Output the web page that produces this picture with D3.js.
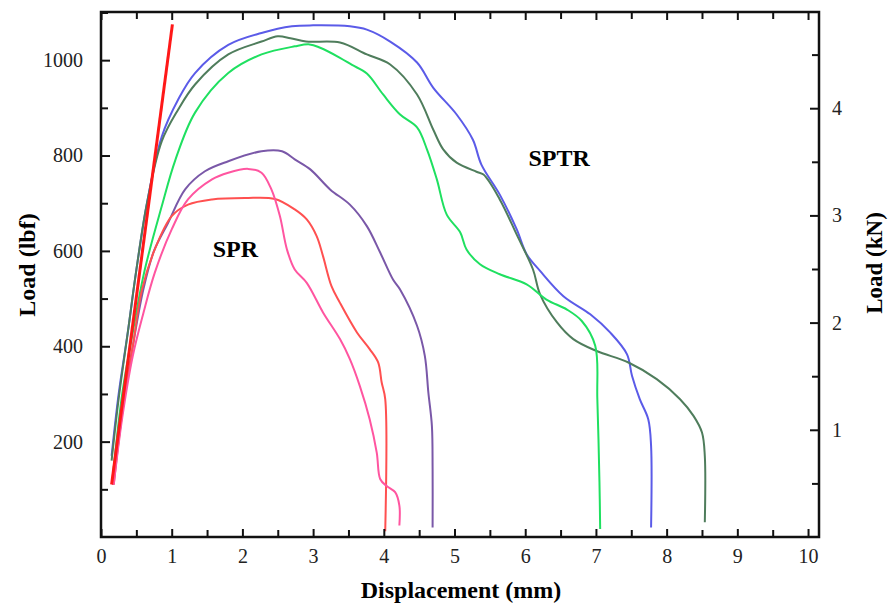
<!DOCTYPE html>
<html>
<head>
<meta charset="utf-8">
<script src="https://cdn.jsdelivr.net/npm/d3@7"></script>
<style>
  body { margin: 0; background: #fff; }
  text { font-family: "Liberation Serif", "Times New Roman", serif; }
</style>
</head>
<body>
<svg width="888" height="605"></svg>
<script>
// displacement (mm), load (lbf)
const stiffnessLine = [[0.15, 110], [1.01, 1075]];

const sptrBlue = [[0.15,170],[0.25,300],[0.38,430],[0.5,560],[0.65,700],[0.86,840],[1.09,917],[1.33,973],[1.8,1032],[2.27,1057],[2.7,1071],[3.0,1073],[3.52,1071],[3.76,1064],[4.09,1039],[4.47,995],[4.7,942],[5.03,886],[5.26,833],[5.38,781],[5.64,718],[5.88,645],[6.02,593],[6.21,558],[6.54,505],[6.92,467],[7.2,429],[7.44,383],[7.51,338],[7.62,289],[7.74,247],[7.78,191],[7.78,20]];

const sptrDark = [[0.15,160],[0.25,290],[0.38,430],[0.5,560],[0.65,700],[0.86,830],[1.09,896],[1.33,949],[1.8,1012],[2.27,1039],[2.5,1050],[2.68,1046],[2.9,1039],[3.38,1037],[3.76,1012],[4.09,991],[4.47,928],[4.7,854],[4.84,813],[5.03,785],[5.31,766],[5.41,760],[5.64,708],[5.88,634],[6.11,561],[6.21,509],[6.45,450],[6.68,415],[7.01,390],[7.46,366],[7.86,331],[8.19,289],[8.38,254],[8.5,219],[8.54,170],[8.54,31]];

const sptrGreen = [[0.17,130],[0.3,300],[0.45,430],[0.62,561],[0.86,694],[1.05,790],[1.33,890],[1.8,973],[2.27,1012],[2.74,1029],[2.95,1033],[3.1,1026],[3.38,1005],[3.55,990],[3.76,972],[3.99,928],[4.23,886],[4.47,859],[4.61,813],[4.75,750],[4.89,676],[5.08,639],[5.17,603],[5.36,572],[5.64,551],[6.02,530],[6.3,498],[6.59,477],[6.8,453],[6.99,401],[7.02,289],[7.05,115],[7.06,17]];

const sprPurple = [[0.17,110],[0.3,260],[0.45,400],[0.6,520],[0.75,600],[0.95,659],[1.19,729],[1.47,767],[1.8,788],[2.27,809],[2.56,809],[2.74,792],[2.96,771],[3.24,729],[3.52,697],[3.76,652],[3.95,596],[4.13,540],[4.23,519],[4.47,443],[4.58,380],[4.63,303],[4.68,233],[4.69,142],[4.69,20]];

const sprPink = [[0.18,110],[0.3,250],[0.45,380],[0.6,470],[0.76,554],[1.0,645],[1.23,708],[1.57,750],[1.8,764],[2.08,772],[2.27,764],[2.41,729],[2.53,673],[2.63,603],[2.74,561],[2.91,533],[3.14,471],[3.38,415],[3.52,373],[3.66,317],[3.8,247],[3.9,177],[3.95,121],[4.04,107],[4.16,94],[4.22,66],[4.22,24]];

const sprRed = [[0.18,110],[0.3,260],[0.45,400],[0.58,519],[0.76,603],[1.0,673],[1.23,697],[1.57,708],[2.04,711],[2.46,709],[2.74,687],[2.91,666],[3.05,631],[3.14,589],[3.26,526],[3.38,491],[3.62,429],[3.8,394],[3.92,366],[3.97,324],[4.02,289],[4.02,12]];

const xTicks = [0,1,2,3,4,5,6,7,8,9,10];
const xMinor = d3.range(0.5, 10.1, 1);
const lbfTicks = [200, 400, 600, 800, 1000];
const lbfMinor = [100, 300, 500, 700, 900, 1100];
const kNTicks = [1, 2, 3, 4];
const kNMinor = [0.5, 1.5, 2.5, 3.5, 4.5];

const series = [
  { data: sptrBlue,  color: "#5b5be8", w: 2 },
  { data: sptrDark,  color: "#4f7d5c", w: 2 },
  { data: sptrGreen, color: "#1fe060", w: 2 },
  { data: sprPurple, color: "#7a58a8", w: 2 },
  { data: sprRed,    color: "#ff5050", w: 2 },
  { data: sprPink,   color: "#ff55a0", w: 2 },
  { data: stiffnessLine, color: "#ff1818", w: 3 }
];

const margin = { top: 12, right: 69, bottom: 68, left: 101 };
const width = 888 - margin.left - margin.right;
const height = 605 - margin.top - margin.bottom;
const LBF_TO_KN = 0.0044482;

const x = d3.scaleLinear().domain([0, 10.155]).range([0, width]);
const y = d3.scaleLinear().domain([0, 1101]).range([height, 0]);
const yKN = d3.scaleLinear().domain([0, 1101 * LBF_TO_KN]).range([height, 0]);

const svg = d3.select("svg")
  .append("g")
  .attr("transform", "translate(" + margin.left + "," + margin.top + ")");

const line = d3.line()
  .curve(d3.curveCatmullRom.alpha(0.5))
  .x(d => x(d[0])).y(d => y(d[1]));

svg.selectAll(".curve")
  .data(series)
  .enter()
  .append("path")
  .attr("class", "curve")
  .attr("fill", "none")
  .attr("stroke", d => d.color)
  .attr("stroke-width", d => d.w)
  .attr("stroke-linejoin", "round")
  .attr("d", d => line(d.data));

function styleAxis(g) {
  g.select(".domain").remove();
  g.selectAll("line").attr("stroke", "#111").attr("stroke-width", 2);
  g.selectAll("text").attr("font-size", 20).attr("fill", "#222")
    .attr("font-family", "Liberation Serif, serif");
}

// bottom
svg.append("g").attr("transform", "translate(0," + height + ")")
  .call(d3.axisBottom(x).tickValues(xTicks).tickSize(-8).tickPadding(12).tickFormat(d3.format("d")))
  .call(styleAxis);
svg.append("g").attr("transform", "translate(0," + height + ")")
  .call(d3.axisBottom(x).tickValues(xMinor).tickSize(-7).tickFormat(""))
  .call(styleAxis);
// top
svg.append("g")
  .call(d3.axisTop(x).tickValues(xTicks).tickSize(-8).tickFormat(""))
  .call(styleAxis);
svg.append("g")
  .call(d3.axisTop(x).tickValues(xMinor).tickSize(-7).tickFormat(""))
  .call(styleAxis);
// left
svg.append("g")
  .call(d3.axisLeft(y).tickValues(lbfTicks).tickSize(-9).tickPadding(18).tickFormat(d3.format("d")))
  .call(styleAxis);
svg.append("g")
  .call(d3.axisLeft(y).tickValues(lbfMinor).tickSize(-7).tickFormat(""))
  .call(styleAxis);
// right
svg.append("g").attr("transform", "translate(" + width + ",0)")
  .call(d3.axisRight(yKN).tickValues(kNTicks).tickSize(-9).tickPadding(13).tickFormat(d3.format("d")))
  .call(styleAxis);
svg.append("g").attr("transform", "translate(" + width + ",0)")
  .call(d3.axisRight(yKN).tickValues(kNMinor).tickSize(-7).tickFormat(""))
  .call(styleAxis);

// frame
svg.append("rect")
  .attr("width", width).attr("height", height)
  .attr("fill", "none").attr("stroke", "#111").attr("stroke-width", 2.5);

// titles
svg.append("text")
  .attr("x", width / 2 + 1).attr("y", height + 61)
  .attr("text-anchor", "middle").attr("font-size", 24).attr("font-weight", "bold")
  .text("Displacement (mm)");
svg.append("text")
  .attr("transform", "translate(" + (35 - margin.left) + "," + (265 - margin.top) + ") rotate(-90)")
  .attr("text-anchor", "middle").attr("font-size", 24).attr("font-weight", "bold")
  .text("Load (lbf)");
svg.append("text")
  .attr("transform", "translate(" + (882 - margin.left) + "," + (263 - margin.top) + ") rotate(-90)")
  .attr("text-anchor", "middle").attr("font-size", 23).attr("font-weight", "bold")
  .text("Load (kN)");

// annotations
svg.append("text")
  .attr("x", x(1.9)).attr("y", y(588))
  .attr("text-anchor", "middle").attr("font-size", 24).attr("font-weight", "bold")
  .text("SPR");
svg.append("text")
  .attr("x", x(6.48)).attr("y", y(778))
  .attr("text-anchor", "middle").attr("font-size", 24).attr("font-weight", "bold")
  .text("SPTR");
</script>
</body>
</html>
